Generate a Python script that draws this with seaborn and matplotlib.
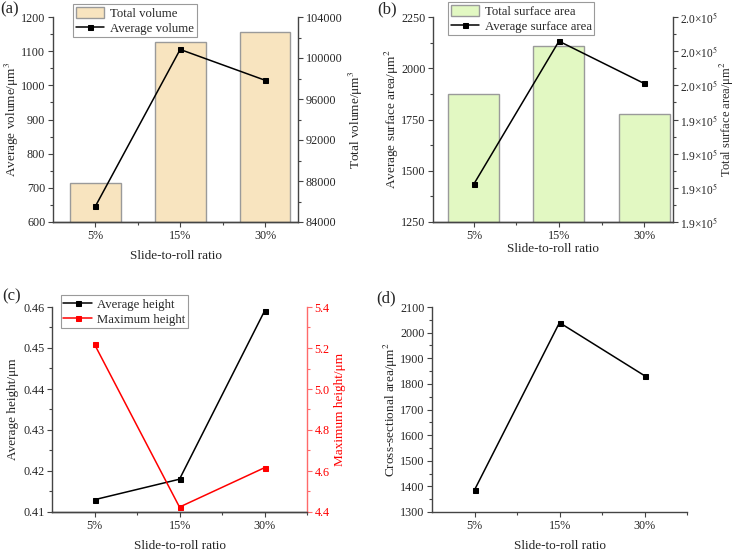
import numpy as np
import matplotlib
matplotlib.use("Agg")
import matplotlib.pyplot as plt
import seaborn as sns
from matplotlib.ticker import MultipleLocator, FixedLocator, FixedFormatter, FormatStrFormatter

# ---------------- data ----------------
ratios = ["5%", "15%", "30%"]
avg_volume = [646, 1105, 1015]
total_volume = [87800, 101600, 102500]
avg_surface = [1435, 2132, 1926]
total_surface = [195500, 198300, 194300]
avg_height = [0.413, 0.418, 0.459]
max_height = [5.218, 4.424, 4.616]
cross_area = [1386, 2039, 1832]

surf_right_ticks = [188000, 190000, 192000, 194000, 196000, 198000, 200000]
surf_right_mantissa = ["1.9", "1.9", "1.9", "1.9", "2.0", "2.0", "2.0"]

# ---------------- style ----------------
sns.set_style("ticks")
plt.rcParams["font.family"] = ["Liberation Serif", "DejaVu Serif"]
plt.rcParams["mathtext.fontset"] = "stix"

TICK = 8.7
LAB = 9.5
LEG = 9.2
SPINE = "#444444"
RED = "#FF0000"
RED_LIGHT = "#FF6A6A"

W, H = 735, 551
fig = plt.figure(figsize=(W / 100, H / 100), dpi=100)


def rect(left, top, right, bottom):
    return [left / W, 1 - bottom / H, (right - left) / W, (bottom - top) / H]


def base_style(ax):
    ax.tick_params(which="both", direction="out", labelsize=TICK, width=0.8,
                   color=SPINE, pad=2)
    ax.tick_params(which="major", length=3.5)
    ax.tick_params(which="minor", length=2)
    for s in ax.spines.values():
        s.set_color(SPINE)
        s.set_linewidth(1.0)


def legend(ax, handles, labels, x, y):
    lg = ax.legend(handles, labels, loc="upper left", bbox_to_anchor=(x, y),
                   frameon=True, fancybox=False, framealpha=1,
                   edgecolor="#9a9a9a", fontsize=LEG, handlelength=2.2,
                   handleheight=1.0, labelspacing=0.12, borderpad=0.22,
                   handletextpad=0.45, borderaxespad=0)
    lg.get_frame().set_linewidth(0.8)
    return lg


pos = np.arange(len(ratios))
line_kw = dict(marker="s", markersize=3.6, linewidth=1.1)

# ---------------- (a) ----------------
ax1 = fig.add_axes(rect(53, 17, 298, 222))
ax2 = ax1.twinx()
sns.barplot(x=ratios, y=total_volume, ax=ax2, color="#F8E4BF", saturation=1,
            edgecolor="#9a9a9a", linewidth=1.0, width=0.6)
sns.lineplot(x=pos, y=avg_volume, ax=ax1, color="black",
             markeredgecolor="black", **line_kw)
ax1.set_zorder(ax2.get_zorder() + 1)
ax1.patch.set_visible(False)
ax1.set_ylim(600, 1200)
ax1.yaxis.set_major_locator(MultipleLocator(100))
ax1.yaxis.set_minor_locator(MultipleLocator(50))
ax2.set_ylim(84000, 104000)
ax2.yaxis.set_major_locator(MultipleLocator(4000))
ax2.yaxis.set_minor_locator(MultipleLocator(2000))
ax1.set_xticks(pos)
ax1.set_xticklabels(ratios)
ax1.xaxis.set_minor_locator(FixedLocator([0.5, 1.5, 2.5]))
ax1.set_xlim(-0.5, 2.39)
ax1.set_xlabel("Slide-to-roll ratio", fontsize=LAB, labelpad=6)
ax1.set_ylabel("Average volume/μm$^3$", fontsize=LAB, labelpad=0)
ax2.set_ylabel("Total volume/μm$^3$", fontsize=LAB, labelpad=3)
for a in (ax1, ax2):
    base_style(a)
    a.spines["top"].set_visible(False)
ax1.spines["right"].set_visible(False)
ax2.spines["left"].set_visible(False)
legend(ax1, [ax2.patches[0], ax1.lines[0]], ["Total volume", "Average volume"],
       0.082, 1.063)

# ---------------- (b) ----------------
bx1 = fig.add_axes(rect(433, 17, 673, 222))
bx2 = bx1.twinx()
sns.barplot(x=ratios, y=total_surface, ax=bx2, color="#E2F8C2", saturation=1,
            edgecolor="#9a9a9a", linewidth=1.0, width=0.6)
sns.lineplot(x=pos, y=avg_surface, ax=bx1, color="black",
             markeredgecolor="black", **line_kw)
bx1.set_zorder(bx2.get_zorder() + 1)
bx1.patch.set_visible(False)
bx1.set_ylim(1250, 2250)
bx1.yaxis.set_major_locator(MultipleLocator(250))
bx1.yaxis.set_minor_locator(MultipleLocator(125))
bx2.set_ylim(surf_right_ticks[0], surf_right_ticks[-1])
bx2.yaxis.set_major_locator(FixedLocator(surf_right_ticks))
bx2.yaxis.set_major_formatter(FixedFormatter(
    [m + "×10$^5$" for m in surf_right_mantissa]))
bx2.yaxis.set_minor_locator(MultipleLocator(1000))
bx1.set_xticks(pos)
bx1.set_xticklabels(ratios)
bx1.xaxis.set_minor_locator(FixedLocator([0.5, 1.5, 2.5]))
bx1.set_xlim(-0.48, 2.34)
bx1.set_xlabel("Slide-to-roll ratio", fontsize=LAB, labelpad=1)
bx1.set_ylabel("Average surface area/μm$^2$", fontsize=LAB, labelpad=0)
bx2.set_ylabel("Total surface area/μm$^2$", fontsize=9)
bx2.yaxis.set_label_coords((718 - 433) / 240, 0.5)
for a in (bx1, bx2):
    base_style(a)
    a.spines["top"].set_visible(False)
bx2.tick_params(axis="y", labelsize=8.3, pad=1.5)
bx1.spines["right"].set_visible(False)
bx2.spines["left"].set_visible(False)
legend(bx1, [bx2.patches[0], bx1.lines[0]],
       ["Total surface area", "Average surface area"], 0.0625, 1.073)

# ---------------- (c) ----------------
cx1 = fig.add_axes(rect(52, 307, 307, 512))
cx2 = cx1.twinx()
sns.lineplot(x=pos, y=avg_height, ax=cx1, color="black",
             markeredgecolor="black", **line_kw)
sns.lineplot(x=pos, y=max_height, ax=cx2, color=RED,
             markeredgecolor=RED, **line_kw)
cx1.set_ylim(0.41, 0.46)
cx1.yaxis.set_major_locator(MultipleLocator(0.01))
cx1.yaxis.set_minor_locator(MultipleLocator(0.005))
cx2.set_ylim(4.4, 5.4)
cx2.yaxis.set_major_locator(MultipleLocator(0.2))
cx2.yaxis.set_minor_locator(MultipleLocator(0.1))
cx2.yaxis.set_major_formatter(FormatStrFormatter("%.1f"))
cx1.yaxis.set_major_formatter(FormatStrFormatter("%.2f"))
cx1.set_xticks(pos)
cx1.set_xticklabels(ratios)
cx1.xaxis.set_minor_locator(FixedLocator([0.5, 1.5, 2.5]))
cx1.set_xlim(-0.5, 2.5)
cx1.set_xlabel("Slide-to-roll ratio", fontsize=LAB, labelpad=6)
cx1.set_ylabel("Average height/μm", fontsize=LAB, labelpad=3)
cx2.set_ylabel("Maximum height/μm", fontsize=LAB, labelpad=3, color=RED)
for a in (cx1, cx2):
    base_style(a)
    a.spines["top"].set_visible(False)
cx1.spines["right"].set_visible(False)
cx2.spines["left"].set_visible(False)
cx2.spines["right"].set_color(RED_LIGHT)
cx2.tick_params(axis="y", which="both", colors=RED_LIGHT, labelcolor=RED)
legend(cx2, [cx1.lines[0], cx2.lines[0]], ["Average height", "Maximum height"],
       0.034, 1.058)

# ---------------- (d) ----------------
dx = fig.add_axes(rect(432, 307, 687, 512))
sns.lineplot(x=pos, y=cross_area, ax=dx, color="black",
             markeredgecolor="black", **line_kw)
dx.set_ylim(1300, 2100)
dx.yaxis.set_major_locator(MultipleLocator(100))
dx.yaxis.set_minor_locator(MultipleLocator(50))
dx.set_xticks(pos)
dx.set_xticklabels(ratios)
dx.xaxis.set_minor_locator(FixedLocator([0.5, 1.5, 2.5]))
dx.set_xlim(-0.5, 2.5)
dx.set_xlabel("Slide-to-roll ratio", fontsize=LAB, labelpad=6)
dx.set_ylabel("Cross-sectional area/μm$^2$", fontsize=LAB, labelpad=0)
base_style(dx)
dx.spines["top"].set_visible(False)
dx.spines["right"].set_visible(False)

# ---------------- panel labels ----------------
fig.text(0 / W, 1 - 9 / H, "(a)", fontsize=12, va="center", ha="left")
fig.text(377 / W, 1 - 9 / H, "(b)", fontsize=12, va="center", ha="left")
fig.text(2 / W, 1 - 296 / H, "(c)", fontsize=12, va="center", ha="left")
fig.text(376 / W, 1 - 298 / H, "(d)", fontsize=12, va="center", ha="left")

fig.savefig("out.png", dpi=100)
